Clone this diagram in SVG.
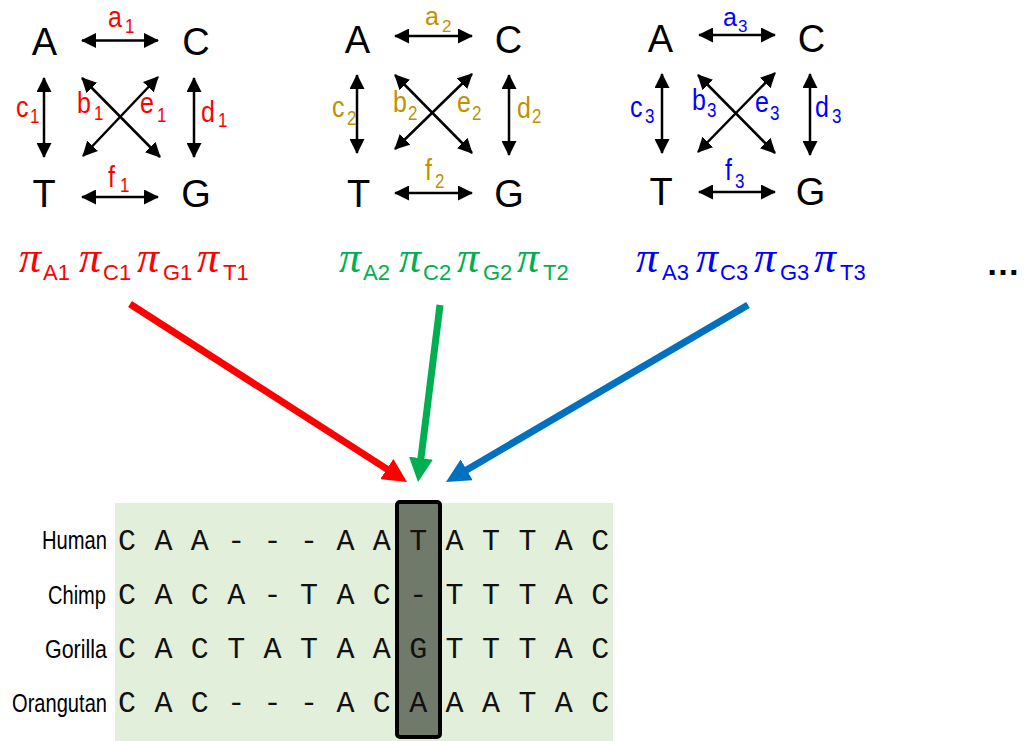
<svg xmlns="http://www.w3.org/2000/svg" width="1026" height="741" viewBox="0 0 1026 741">
<style>
.nuc{font-family:"Liberation Sans",Arial,sans-serif;font-size:38px;fill:#000;text-anchor:middle}
.lbl{font-family:"Liberation Sans",Arial,sans-serif;font-size:25px}
.sub{font-size:17px}
.r{fill:#FF0000}.g{fill:#BF9000}.b{fill:#0000FF}.gr{fill:#00B050}
.pi{font-family:"Liberation Serif","Times New Roman",serif;font-style:italic;font-size:44px}
.ps{font-family:"Liberation Sans",Arial,sans-serif;font-size:22px}
.sm{stroke:#000;stroke-width:2.5;fill:none;marker-start:url(#ah);marker-end:url(#ah)}
.seq{font-family:"Liberation Mono","Courier New",monospace;font-size:30px;fill:#111;text-anchor:middle}
.sp{font-family:"Liberation Sans",Arial,sans-serif;font-size:24px;fill:#000;text-anchor:end}
</style>
<defs>
<marker id="ah" markerUnits="userSpaceOnUse" markerWidth="15" markerHeight="15" refX="14" refY="7.5" orient="auto-start-reverse"><path d="M0,0 L15,7.5 L0,15 z" fill="#000"/></marker>
<marker id="hr" markerUnits="userSpaceOnUse" markerWidth="24" markerHeight="24" refX="9" refY="12" orient="auto"><path d="M0,0 L24,12 L0,24 z" fill="#FF0000"/></marker>
<marker id="hg" markerUnits="userSpaceOnUse" markerWidth="24" markerHeight="24" refX="9" refY="12" orient="auto"><path d="M0,0 L24,12 L0,24 z" fill="#00B050"/></marker>
<marker id="hb" markerUnits="userSpaceOnUse" markerWidth="24" markerHeight="24" refX="9" refY="12" orient="auto"><path d="M0,0 L24,12 L0,24 z" fill="#0070C0"/></marker>
</defs>
<rect width="1026" height="741" fill="#fff"/>

<g id="model1">
<text class="nuc" x="44.5" y="55">A</text>
<text class="nuc" x="196" y="55">C</text>
<text class="nuc" x="44" y="207">T</text>
<text class="nuc" x="196" y="207">G</text>
<text class="lbl r" transform="translate(108,27) scale(1,1.2)">a<tspan class="sub" x="17" y="5">1</tspan></text>
<text class="lbl r" transform="translate(16,117) scale(1,1.2)">c<tspan class="sub" x="14" y="5">1</tspan></text>
<text class="lbl r" transform="translate(77,113) scale(1,1.2)">b<tspan class="sub" x="17" y="6">1</tspan></text>
<text class="lbl r" transform="translate(140,113) scale(1,1.2)">e<tspan class="sub" x="17" y="7.5">1</tspan></text>
<text class="lbl r" transform="translate(201,122) scale(1,1.2)">d<tspan class="sub" x="17" y="4">1</tspan></text>
<text class="lbl r" transform="translate(108,187) scale(1,1.2)">f<tspan class="sub" x="12" y="4">1</tspan></text>
</g>
<g id="model2">
<text class="nuc" x="357.5" y="53">A</text>
<text class="nuc" x="508.5" y="53">C</text>
<text class="nuc" x="358.5" y="207">T</text>
<text class="nuc" x="509" y="207">G</text>
<text class="lbl g" x="425" y="25" font-size="27">a<tspan class="sub" x="442" y="32" font-size="19">2</tspan></text>
<text class="lbl g" transform="translate(332,117) scale(1,1.2)">c<tspan class="sub" x="15" y="6.7">2</tspan></text>
<text class="lbl g" transform="translate(393,112) scale(1,1.2)">b<tspan class="sub" x="15" y="6.7">2</tspan></text>
<text class="lbl g" transform="translate(457,112) scale(1,1.2)">e<tspan class="sub" x="15" y="6.7">2</tspan></text>
<text class="lbl g" transform="translate(517,118) scale(1,1.2)">d<tspan class="sub" x="15" y="4">2</tspan></text>
<text class="lbl g" transform="translate(425,180) scale(1,1.2)">f<tspan class="sub" x="10" y="6.7">2</tspan></text>
</g>
<g id="model3">
<text class="nuc" x="660.5" y="52">A</text>
<text class="nuc" x="811.5" y="52">C</text>
<text class="nuc" x="661" y="205">T</text>
<text class="nuc" x="810.5" y="205">G</text>
<text class="lbl b" x="723" y="26" font-size="27">a<tspan class="sub" x="738" y="32" font-size="19">3</tspan></text>
<text class="lbl b" transform="translate(630,117) scale(1,1.2)">c<tspan class="sub" x="15" y="5">3</tspan></text>
<text class="lbl b" transform="translate(692,110) scale(1,1.2)">b<tspan class="sub" x="15" y="5.8">3</tspan></text>
<text class="lbl b" transform="translate(755,112) scale(1,1.2)">e<tspan class="sub" x="15" y="6.7">3</tspan></text>
<text class="lbl b" transform="translate(815,117) scale(1,1.2)">d<tspan class="sub" x="17" y="5">3</tspan></text>
<text class="lbl b" transform="translate(725,180) scale(1,1.2)">f<tspan class="sub" x="10" y="6.7">3</tspan></text>
</g>

<g id="freq1" class="r">
<text class="pi" x="19" y="272">π</text><text class="ps" x="43" y="280">A1</text>
<text class="pi" x="79" y="272">π</text><text class="ps" x="103" y="280">C1</text>
<text class="pi" x="137" y="272">π</text><text class="ps" x="163" y="280">G1</text>
<text class="pi" x="197" y="272">π</text><text class="ps" x="223" y="280">T1</text>
</g>
<g id="freq2" class="gr">
<text class="pi" x="339" y="272">π</text><text class="ps" x="363" y="280">A2</text>
<text class="pi" x="399" y="272">π</text><text class="ps" x="423" y="280">C2</text>
<text class="pi" x="457" y="272">π</text><text class="ps" x="483" y="280">G2</text>
<text class="pi" x="517" y="272">π</text><text class="ps" x="543" y="280">T2</text>
</g>
<g id="freq3" class="b">
<text class="pi" x="636" y="272">π</text><text class="ps" x="662" y="280">A3</text>
<text class="pi" x="696" y="272">π</text><text class="ps" x="720" y="280">C3</text>
<text class="pi" x="754" y="272">π</text><text class="ps" x="780" y="280">G3</text>
<text class="pi" x="814" y="272">π</text><text class="ps" x="840" y="280">T3</text>
</g>
<g id="more">
<text x="986" y="275" font-family="Liberation Sans, Arial, sans-serif" font-size="34" font-weight="bold" fill="#000">…</text>
</g>

<g id="alignment">
<rect x="115" y="503" width="498" height="238" fill="#E2EFDA"/>
<rect x="397" y="502" width="43" height="235" rx="3" fill="#707A6A" stroke="#000" stroke-width="4"/>
<text class="sp" x="107" y="549" textLength="65" lengthAdjust="spacingAndGlyphs" transform="translate(0,-54.9) scale(1,1.1)">Human</text>
<text class="sp" x="106" y="604" textLength="58" lengthAdjust="spacingAndGlyphs" transform="translate(0,-60.4) scale(1,1.1)">Chimp</text>
<text class="sp" x="107" y="658" textLength="62" lengthAdjust="spacingAndGlyphs" transform="translate(0,-65.8) scale(1,1.1)">Gorilla</text>
<text class="sp" x="107" y="712" textLength="95" lengthAdjust="spacingAndGlyphs" transform="translate(0,-71.2) scale(1,1.1)">Orangutan</text>
<text class="seq" x="127 163.4 199.8 236.2 272.6 309 345.4 381.8 418.2 454.6 491 527.4 563.8 600.2" y="550">CAA---AATATTAC</text>
<text class="seq" x="127 163.4 199.8 236.2 272.6 309 345.4 381.8 418.2 454.6 491 527.4 563.8 600.2" y="604">CACA-TAC-TTTAC</text>
<text class="seq" x="127 163.4 199.8 236.2 272.6 309 345.4 381.8 418.2 454.6 491 527.4 563.8 600.2" y="658">CACTATAAGTTTAC</text>
<text class="seq" x="127 163.4 199.8 236.2 272.6 309 345.4 381.8 418.2 454.6 491 527.4 563.8 600.2" y="712">CAC---ACAAATAC</text>
</g>

<g id="connectors">
<line class="sm" x1="82" y1="40.5" x2="158" y2="40.5"/>
<line class="sm" x1="82" y1="197" x2="158" y2="197"/>
<line class="sm" x1="44" y1="78" x2="44" y2="157"/>
<line class="sm" x1="194" y1="78" x2="194" y2="157"/>
<line class="sm" x1="82" y1="78" x2="160" y2="157"/>
<line class="sm" x1="158" y1="77" x2="83" y2="156"/>

<line class="sm" x1="395" y1="36" x2="472" y2="36"/>
<line class="sm" x1="395" y1="193" x2="472" y2="193"/>
<line class="sm" x1="357" y1="75" x2="357" y2="153"/>
<line class="sm" x1="509" y1="75" x2="509" y2="155"/>
<line class="sm" x1="395" y1="75" x2="472" y2="153"/>
<line class="sm" x1="472" y1="74" x2="395" y2="149"/>

<line class="sm" x1="699" y1="35" x2="775" y2="35"/>
<line class="sm" x1="699" y1="192" x2="775" y2="192"/>
<line class="sm" x1="662" y1="74" x2="662" y2="153"/>
<line class="sm" x1="810" y1="74" x2="810" y2="155"/>
<line class="sm" x1="698" y1="75" x2="775" y2="153"/>
<line class="sm" x1="775" y1="73" x2="698" y2="152"/>

<line x1="130" y1="304" x2="394.4" y2="473.9" stroke="#FF0000" stroke-width="7" marker-end="url(#hr)"/>
<line x1="440" y1="305" x2="419.85" y2="467.1" stroke="#00B050" stroke-width="7" marker-end="url(#hg)"/>
<line x1="748" y1="305" x2="458.9" y2="474.4" stroke="#0070C0" stroke-width="7" marker-end="url(#hb)"/>
</g>
</svg>
